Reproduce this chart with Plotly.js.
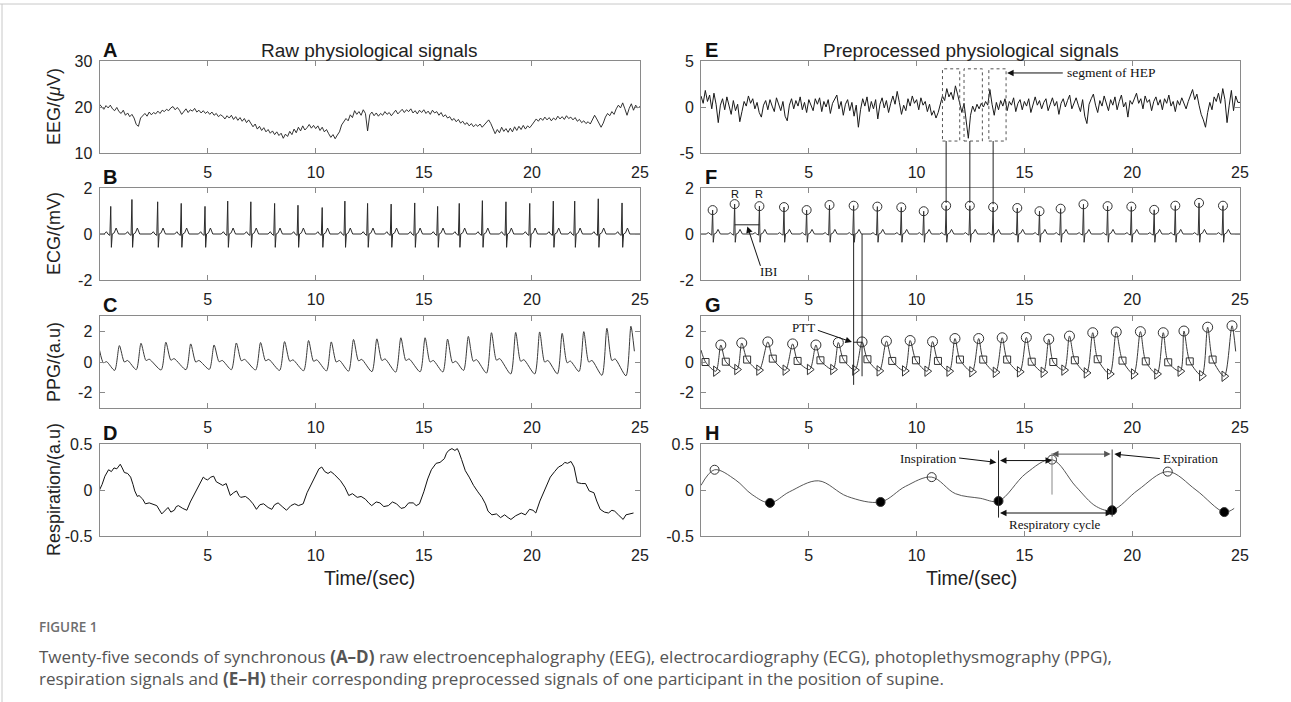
<!DOCTYPE html>
<html><head><meta charset="utf-8">
<script src="https://cdn.plot.ly/plotly-3.0.1.min.js"></script>
<style>html,body{margin:0;padding:0;background:#fff;}#chart{width:1291px;height:702px;}</style>
</head><body><div id="chart"></div>
<script>
// ---------------- DATA ----------------
const eegSampleInterval = 0.1; // s
// (A) raw EEG, µV, every 0.1 s from 0 to 25 s
const eegRaw = [
20.6,20.1,19.5,20.3,19.8,20.4,19.6,19.2,19.9,19.0,
18.6,19.3,18.2,18.7,17.9,18.4,17.6,16.2,15.8,17.6,
18.1,18.6,18.0,18.9,18.3,18.8,18.5,19.1,18.6,19.3,
19.0,19.5,19.2,19.8,20.1,19.4,19.9,19.3,18.4,19.0,
19.6,18.8,19.4,19.1,19.7,18.9,19.3,18.7,19.2,18.6,
19.0,18.4,18.9,18.2,18.6,17.9,18.3,18.0,17.4,18.1,
17.6,18.2,17.3,17.9,17.1,17.7,16.9,17.5,16.6,17.2,
16.4,15.7,16.3,15.2,15.8,14.9,15.5,14.6,15.1,14.3,
14.8,14.0,14.6,13.8,14.3,13.2,14.1,13.6,14.7,14.0,
15.2,14.4,15.6,14.8,15.9,15.0,15.5,16.2,15.4,16.0,
15.3,15.9,14.9,15.6,14.6,15.1,14.2,13.4,14.0,13.1,
13.9,14.6,16.1,16.8,17.5,17.0,18.3,17.7,19.2,18.4,
19.0,18.2,19.4,18.6,14.8,18.3,18.9,18.1,18.7,18.0,
18.6,18.2,19.0,18.4,18.8,18.1,18.7,19.3,18.5,19.1,
19.5,18.8,19.4,19.0,19.6,18.7,19.2,18.5,19.3,18.8,
19.4,18.6,19.1,18.4,19.3,18.7,19.0,18.2,18.8,17.9,
18.3,17.6,17.9,17.1,17.5,16.8,17.3,16.5,16.9,16.2,
16.6,15.9,16.4,15.7,16.2,15.8,16.3,15.6,16.1,16.6,
17.2,16.4,15.3,14.2,15.1,14.4,15.6,14.7,15.3,14.5,
15.4,14.6,15.7,14.9,15.8,15.1,16.0,15.2,15.9,15.5,
16.1,16.8,17.4,16.9,17.6,17.1,17.8,17.2,17.7,17.0,
17.6,17.2,18.0,17.4,17.9,17.3,18.1,17.5,17.8,17.2,
17.7,16.9,17.3,16.6,17.0,16.4,16.8,16.3,17.1,18.2,
17.4,16.3,15.6,16.5,17.8,18.6,18.1,19.0,18.4,19.6,
20.4,19.8,20.9,19.6,18.2,19.7,20.7,19.3,20.4,19.8,
20.1];
// (E) preprocessed EEG, every 0.1 s
const eegPre = [
1.2,0.4,1.8,0.6,1.3,-0.2,1.5,0.3,-1.7,0.2,
0.9,-0.3,1.1,0.2,-0.8,0.7,-0.4,0.3,-1.6,-0.5,
0.6,0.1,1.2,0.4,0.9,-0.2,0.5,-0.6,-1.1,0.2,
0.7,-0.3,0.8,0.1,-0.5,1.0,0.3,-0.4,0.6,-1.0,
-1.5,0.2,0.9,-0.2,0.7,0.1,1.1,-0.3,0.5,-0.6,
0.8,0.2,-0.4,0.9,0.3,1.0,-0.5,0.6,0.0,0.8,
-0.7,0.4,0.9,1.3,-0.2,0.6,-0.9,0.3,0.8,-0.4,
0.5,-1.0,0.2,-2.2,-0.3,0.9,0.1,1.1,-0.5,0.6,
-0.2,0.8,-1.3,0.3,1.0,-0.1,0.7,-0.6,0.4,1.2,
0.3,1.7,0.5,-0.8,0.2,-0.4,0.9,0.1,1.2,0.4,
0.8,-0.3,1.0,0.2,0.6,-0.5,0.3,-0.9,-0.4,-1.2,
-0.6,0.3,1.2,0.7,2.0,1.1,1.6,0.8,2.3,1.4,
0.2,-0.6,0.4,-1.3,-3.4,-0.9,0.1,-0.5,0.3,-0.2,
0.4,0.0,0.6,0.2,1.9,0.3,-0.9,0.5,-0.3,0.7,
0.1,0.9,-0.4,0.6,0.2,1.0,-0.5,0.4,0.8,-0.3,
0.6,0.1,0.9,-0.6,0.4,1.1,0.2,0.7,-0.2,0.5,
0.9,-0.4,0.3,1.0,0.1,0.6,-0.8,0.4,0.9,0.0,
0.7,1.3,-0.2,0.5,1.0,0.2,-0.5,0.8,-1.0,-1.8,
0.3,0.9,1.4,0.2,-0.6,0.7,0.1,1.2,0.4,-0.4,
0.8,0.2,1.1,-0.3,0.6,1.3,0.0,0.5,-1.1,0.7,
0.3,1.0,1.5,0.4,0.9,-0.2,1.2,0.5,0.8,-0.4,
0.6,1.1,0.2,0.8,-0.3,0.9,0.4,1.3,0.1,0.6,
-0.5,0.7,0.2,1.0,0.3,-0.2,0.6,1.2,1.9,0.8,
1.4,0.2,-0.8,-1.4,-2.2,-0.6,0.5,-0.3,1.1,0.6,
1.5,0.4,2.0,0.8,-1.7,0.2,1.8,-0.4,1.2,0.5,
0.5];

// (B) raw ECG: R-peak times (s) and amplitudes (mV)
const ecgRawRTimes = [0.52,1.5,2.69,3.78,4.88,5.93,7.0,8.1,9.18,10.3,11.35,12.4,13.49,14.58,15.64,16.64,17.71,18.8,19.9,20.99,21.98,23.07,24.17];
const ecgRawRAmps  = [1.2,1.5,1.4,1.33,1.2,1.43,1.4,1.33,1.25,1.15,1.43,1.33,1.3,1.35,1.2,1.33,1.45,1.4,1.33,1.43,1.43,1.53,1.35];
// (F) preprocessed ECG: detected R peaks
const ecgPreRTimes = [0.54,1.56,2.71,3.85,4.9,5.96,7.08,8.18,9.29,10.33,11.37,12.47,13.55,14.67,15.7,16.68,17.74,18.86,19.96,21.02,22.0,23.1,24.21];
const ecgPreRAmps  = [1.04,1.3,1.21,1.17,1.04,1.26,1.23,1.19,1.16,0.99,1.23,1.23,1.17,1.13,0.99,1.1,1.29,1.21,1.19,1.05,1.23,1.35,1.23];
// one heartbeat (offset from R in s, level in mV; 'R' = R amplitude)
const ecgBeatOffsets   = [-0.30,-0.20,-0.13,-0.04,0,0.03,0.07,0.16,0.25,0.36];
const ecgRawBeatLevels = [0,0.1,0,-0.06,'R',-0.58,0,0.05,0.26,0];
const ecgPreBeatLevels = [0,0.06,0,-0.05,'R',-0.36,0,0.04,0.2,0];

// (C) raw PPG landmarks
const ppgRawStart = [0,0.78], ppgRawEnd = [24.74,0.7];
const ppgRawNotchT = [0.18,1.15,2.15,3.3,4.45,5.53,6.56,7.68,8.8,9.9,10.95,11.98,13.06,14.17,15.29,16.33,17.29,18.36,19.48,20.59,21.63,22.63,23.7];
const ppgRawNotchV = [-0.05,0.0,0.1,0.12,0.0,0.02,0.08,0.08,0.05,0.05,0.0,0.08,0.1,0.1,0.0,-0.05,0.05,0.12,0.05,0.0,-0.05,0.0,0.1];
const ppgRawBumpT  = [0.33,1.3,2.3,3.45,4.6,5.68,6.71,7.83,8.95,10.05,11.1,12.13,13.21,14.32,15.44,16.48,17.44,18.51,19.63,20.74,21.78,22.78,23.85];
const ppgRawBumpV  = [0.02,0.1,0.18,0.22,0.1,0.1,0.17,0.17,0.14,0.14,0.1,0.17,0.2,0.2,0.1,0.05,0.15,0.22,0.15,0.1,0.06,0.1,0.2];
const ppgRawFootT  = [0.7,1.7,2.85,4.0,5.08,6.1,7.22,8.33,9.44,10.5,11.52,12.6,13.7,14.83,15.88,16.84,17.9,19.02,20.13,21.18,22.18,23.24,24.35];
const ppgRawFootV  = [-0.55,-0.5,-0.52,-0.5,-0.48,-0.5,-0.52,-0.55,-0.57,-0.58,-0.6,-0.63,-0.66,-0.64,-0.65,-0.55,-0.72,-0.78,-0.78,-0.77,-0.62,-0.87,-0.9];
const ppgRawPeakT  = [0.92,1.92,3.07,4.22,5.3,6.33,7.45,8.56,9.67,10.72,11.75,12.83,13.94,15.06,16.1,17.06,18.13,19.25,20.36,21.4,22.4,23.47,24.58];
const ppgRawPeakV  = [1.07,1.22,1.29,1.18,1.11,1.24,1.27,1.33,1.4,1.31,1.47,1.51,1.58,1.58,1.49,1.67,1.91,1.93,1.96,1.87,1.98,2.2,2.33];

// (G) preprocessed PPG landmarks (squares, triangles, circles)
const ppgPreStart = [0,0.78], ppgPreEnd = [24.8,0.69];
const ppgNotchT = [0.21,1.15,2.14,3.33,4.48,5.54,6.6,7.72,8.87,9.97,10.99,12.01,13.09,14.2,15.34,16.34,17.34,18.4,19.55,20.63,21.67,22.67,23.73];
const ppgNotchV = [0,0.02,0.16,0.22,0.07,0.11,0.18,0.18,0.07,0.11,0.07,0.16,0.16,0.16,0.02,0,0.11,0.18,0.09,0.04,-0.02,0.04,0.16];
const ppgFootT  = [0.69,1.67,2.69,3.91,5.04,6.12,7.14,8.27,9.45,10.49,11.51,12.57,13.66,14.78,15.88,16.84,17.88,18.96,20.07,21.15,22.23,23.23,24.27];
const ppgFootV  = [-0.6,-0.49,-0.53,-0.53,-0.49,-0.49,-0.53,-0.58,-0.58,-0.6,-0.6,-0.64,-0.67,-0.64,-0.67,-0.53,-0.71,-0.78,-0.78,-0.78,-0.6,-0.89,-0.93];
const ppgPeakT  = [0.92,1.89,3.1,4.25,5.33,6.37,7.47,8.6,9.7,10.74,11.78,12.88,13.97,15.09,16.13,17.09,18.17,19.26,20.38,21.44,22.4,23.5,24.63];
const ppgPeakV  = [1.11,1.24,1.31,1.18,1.11,1.27,1.31,1.36,1.4,1.33,1.53,1.53,1.58,1.6,1.49,1.69,1.91,1.96,1.98,1.91,2.02,2.27,2.36];

// (D) raw respiration
const respRawT = [0,0.12,0.25,0.42,0.55,0.67,0.8,0.96,1.05,1.15,1.3,1.44,1.55,1.63,1.75,1.83,2.0,2.12,2.3,2.5,2.65,2.88,3.0,3.17,3.3,3.46,3.55,3.65,3.85,4.04,4.2,4.42,4.6,4.8,4.9,5.0,5.15,5.28,5.4,5.57,5.7,5.86,5.95,6.05,6.2,6.34,6.45,6.53,6.75,6.92,7.1,7.26,7.42,7.59,7.8,7.97,8.1,8.26,8.45,8.65,8.85,9.03,9.2,9.42,9.6,9.8,10.0,10.15,10.28,10.42,10.57,10.7,10.86,11.0,11.15,11.35,11.53,11.7,11.92,12.1,12.3,12.45,12.59,12.8,12.97,13.15,13.36,13.55,13.74,13.95,14.12,14.3,14.51,14.65,14.8,15.0,15.18,15.35,15.57,15.75,15.95,16.05,16.15,16.3,16.44,16.55,16.63,16.75,16.92,17.1,17.3,17.5,17.69,17.85,17.97,18.15,18.36,18.55,18.74,18.9,19.03,19.25,19.51,19.7,19.89,20.05,20.18,20.37,20.6,20.85,21.05,21.23,21.4,21.52,21.65,21.81,21.95,22.1,22.3,22.48,22.65,22.87,23.0,23.16,23.35,23.54,23.7,23.83,24.0,24.22,24.35,24.5,24.7];
const respRawV = [0.0,0.06,0.15,0.22,0.2,0.24,0.23,0.28,0.24,0.19,0.18,0.14,0.06,-0.01,-0.07,-0.06,-0.1,-0.15,-0.14,-0.16,-0.17,-0.26,-0.23,-0.19,-0.24,-0.22,-0.18,-0.17,-0.2,-0.22,-0.13,-0.03,0.06,0.14,0.12,0.11,0.14,0.15,0.09,0.07,0.05,0.07,0.01,-0.06,-0.03,-0.01,-0.06,-0.08,-0.07,-0.1,-0.15,-0.21,-0.16,-0.15,-0.19,-0.21,-0.16,-0.14,-0.18,-0.22,-0.17,-0.15,-0.17,-0.15,-0.03,0.07,0.17,0.23,0.25,0.2,0.18,0.2,0.17,0.13,0.1,0.03,-0.06,-0.04,-0.08,-0.07,-0.1,-0.14,-0.17,-0.13,-0.14,-0.18,-0.17,-0.13,-0.15,-0.2,-0.19,-0.14,-0.14,-0.17,-0.15,-0.02,0.12,0.22,0.29,0.3,0.34,0.4,0.43,0.45,0.43,0.45,0.41,0.33,0.21,0.14,0.05,-0.02,-0.08,-0.15,-0.23,-0.27,-0.26,-0.3,-0.27,-0.3,-0.32,-0.28,-0.25,-0.27,-0.21,-0.22,-0.25,-0.12,0.0,0.14,0.2,0.25,0.27,0.3,0.29,0.31,0.25,0.08,0.07,0.07,-0.01,-0.03,-0.12,-0.21,-0.24,-0.25,-0.22,-0.23,-0.27,-0.32,-0.27,-0.26,-0.25];

// (H) preprocessed respiration
const respPreT = [0,0.63,1.6,2.37,3.2,4.1,5.45,6.79,8.33,9.49,10.7,11.8,12.95,13.8,15.07,16.28,17.38,18.34,19.07,20.27,21.65,22.96,24.27,24.73];
const respPreV = [0.05,0.22,0.11,-0.05,-0.14,-0.02,0.1,-0.07,-0.13,0.04,0.14,-0.04,-0.09,-0.12,0.18,0.33,0.04,-0.18,-0.22,0.0,0.2,0.0,-0.24,-0.2];
const respPeakT = [0.63,10.7,16.28,21.65];
const respPeakV = [0.22,0.14,0.33,0.2];
const respTroughT = [3.2,8.33,13.8,19.07,24.27];
const respTroughV = [-0.14,-0.13,-0.12,-0.22,-0.24];

// axes text
const xTickVals = [5,10,15,20,25];
const yRanges = [[10,30],[-2,2],[-3,3],[-0.5,0.5],[-5,5],[-2,2],[-3,3],[-0.5,0.5]];
const yTickVals = [[10,20,30],[-2,0,2],[-2,0,2],[-0.5,0,0.5],[-5,0,5],[-2,0,2],[-2,0,2],[-0.5,0,0.5]];
const yTickText = [['10','20','30'],['-2','0','2'],['-2','0','2'],['-0.5','0','0.5'],['-5','0','5'],['-2','0','2'],['-2','0','2'],['-0.5','0','0.5']];
const yTitles = ['EEG/(<i>\u03bc</i>V)','ECG/(mV)','PPG/(a.u)','Respiration/(a.u)'];
const panelLetters = ['A','B','C','D','E','F','G','H'];
const captionLines = [
  'Twenty-five seconds of synchronous <b>(A\u2013D)</b> raw electroencephalography (EEG), electrocardiography (ECG), photoplethysmography (PPG),',
  'respiration signals and <b>(E\u2013H)</b> their corresponding preprocessed signals of one participant in the position of supine.'
];

// ---------------- LAYOUT GEOMETRY ----------------
const W = 1291, H = 702;
const rowTops = [61,188,316,444], rowH = 92;
const colX = [[99.5,640],[701,1240]];
const SANS = 'Liberation Sans, Arial, Helvetica, sans-serif';
const SERIF = 'Liberation Serif, Times New Roman, serif';
const CAP = 'Open Sans, Noto Sans, sans-serif';
const INK = '#222';

function ydom(r){ return [1-(rowTops[r]+rowH)/H, 1-rowTops[r]/H]; }
function paperY(row, range, v){ const px = rowTops[row] + (range[1]-v)/(range[1]-range[0])*rowH; return 1-px/H; }
function ax(i, letter){ return letter + (i ? String(i+1) : ''); }

function buildEcg(rT, rA, levels){
  const t=[0], v=[0];
  rT.forEach((r,i)=>{ ecgBeatOffsets.forEach((o,j)=>{ t.push(r+o); v.push(levels[j]==='R'?rA[i]:levels[j]); }); });
  t.push(25); v.push(0);
  return {t,v};
}
function buildPpg(start, end, groups){
  const t=[start[0]], v=[start[1]];
  const n = groups[0][0].length;
  for(let k=0;k<n;k++){ groups.forEach(g=>{ t.push(g[0][k]); v.push(g[1][k]); }); }
  t.push(end[0]); v.push(end[1]);
  return {t,v};
}

const traces = [];
function line(i, x, y, extra){ traces.push(Object.assign({type:'scatter',mode:'lines',x,y,xaxis:ax(i,'x'),yaxis:ax(i,'y'),line:{color:'#2a2a2a',width:1},hoverinfo:'skip'},extra||{})); }
function markers(i, x, y, symbol, size, color){ traces.push({type:'scatter',mode:'markers',x,y,xaxis:ax(i,'x'),yaxis:ax(i,'y'),marker:{symbol,size,color:color||'#333',line:{color:'#333',width:1}},hoverinfo:'skip'}); }

const eegT = eegRaw.map((_,k)=>k*eegSampleInterval);
const eegPT = eegPre.map((_,k)=>k*eegSampleInterval);
line(0, eegT, eegRaw, {line:{color:'#1e1e1e',width:0.9}});
const ecgB = buildEcg(ecgRawRTimes, ecgRawRAmps, ecgRawBeatLevels);
line(1, ecgB.t, ecgB.v);
const ppgC = buildPpg(ppgRawStart, ppgRawEnd, [[ppgRawNotchT,ppgRawNotchV],[ppgRawBumpT,ppgRawBumpV],[ppgRawFootT,ppgRawFootV],[ppgRawPeakT,ppgRawPeakV]]);
line(2, ppgC.t, ppgC.v, {line:{color:'#3a3a3a',width:1,shape:'spline',smoothing:0.7}});
line(3, respRawT, respRawV, {line:{color:'#111',width:1}});
line(4, eegPT, eegPre, {line:{color:'#1a1a1a',width:1}});
const ecgF = buildEcg(ecgPreRTimes, ecgPreRAmps, ecgPreBeatLevels);
line(5, ecgF.t, ecgF.v, {line:{color:'#333',width:1}});
markers(5, ecgPreRTimes, ecgPreRAmps, 'circle-open', 9);
const ppgG = buildPpg(ppgPreStart, ppgPreEnd, [[ppgNotchT,ppgNotchV],[ppgFootT,ppgFootV],[ppgPeakT,ppgPeakV]]);
line(6, ppgG.t, ppgG.v, {line:{color:'#3a3a3a',width:1,shape:'spline',smoothing:0.8}});
markers(6, ppgNotchT, ppgNotchV, 'square-open', 7);
markers(6, ppgFootT, ppgFootV, 'triangle-right-open', 9);
markers(6, ppgPeakT, ppgPeakV, 'circle-open', 10);
line(7, respPreT, respPreV, {line:{color:'#444',width:0.9,shape:'spline',smoothing:1}});
markers(7, respPeakT, respPeakV, 'circle-open', 9);
markers(7, respTroughT, respTroughV, 'circle', 9, '#000');

const layout = {width:W,height:H,margin:{l:0,r:0,t:0,b:0},paper_bgcolor:'#fff',plot_bgcolor:'#fff',showlegend:false,
  font:{family:SANS,color:INK},annotations:[],shapes:[]};
const axisCommon = {ticks:'inside',ticklen:5,tickwidth:1,tickcolor:'#8a8a8a',showline:true,linecolor:'#8a8a8a',linewidth:1,
  mirror:'ticks',showgrid:false,zeroline:false,tickfont:{family:SANS,size:16,color:INK},fixedrange:true};
for(let i=0;i<8;i++){
  const col = i<4?0:1, row = i%4;
  layout[ax(i,'xaxis')] = Object.assign({},axisCommon,{domain:[colX[col][0]/W,colX[col][1]/W],anchor:ax(i,'y'),range:[0,25],
    tickvals:xTickVals,ticklabelstandoff:5});
  layout[ax(i,'yaxis')] = Object.assign({},axisCommon,{domain:ydom(row),anchor:ax(i,'x'),range:yRanges[i],
    tickvals:yTickVals[i],ticktext:yTickText[i],ticklabelstandoff:3});
  layout.annotations.push({xref:'paper',yref:'paper',x:(colX[col][0]+1.5)/W,y:1-(rowTops[row]-11)/H,xanchor:'left',yanchor:'middle',
    text:'<b>'+panelLetters[i]+'</b>',showarrow:false,font:{family:SANS,size:20,color:'#111'}});
}
const A = layout.annotations, S = layout.shapes;
function txt(xref,yref,x,y,text,font,xanchor,extra){ A.push(Object.assign({xref,yref,x,y,text,showarrow:false,font,xanchor:xanchor||'center',yanchor:'middle'},extra||{})); }
function arrow(xr,yr,x,y,tx,ty,opts){ A.push(Object.assign({xref:xr,yref:yr,axref:xr,ayref:yr,x,y,ax:tx,ay:ty,text:'',showarrow:true,
  arrowhead:2,arrowsize:1.3,arrowwidth:1,arrowcolor:'#111',standoff:0,startstandoff:0},opts||{})); }
const serifF = {family:SERIF,size:13,color:'#111'};

// titles
txt('paper','paper',369/W,1-50/H,'Raw physiological signals',{family:SANS,size:19,color:INK});
txt('paper','paper',971/W,1-50/H,'Preprocessed physiological signals',{family:SANS,size:19,color:INK});
txt('paper','paper',369/W,1-578/H,'Time/(sec)',{family:SANS,size:19.5,color:INK});
txt('paper','paper',971/W,1-578/H,'Time/(sec)',{family:SANS,size:19.5,color:INK});
yTitles.forEach((t,r)=>txt('paper','paper',54/W,1-(rowTops[r]+rowH/2)/H,t,{family:SANS,size:18,color:INK},'center',{textangle:-90}));

// E: HEP segments
const hepIdx = [10,11,12];
const hepBoxes = [[11.2,12.0],[12.2,13.05],[13.35,14.15]];
const hepBoxY = [-3.7,4.15];
hepBoxes.forEach(b=>S.push({type:'rect',xref:'x5',yref:'y5',x0:b[0],x1:b[1],y0:hepBoxY[0],y1:hepBoxY[1],line:{color:'#555',width:1,dash:'dot'}}));
arrow('x5','y5',14.2,3.7,16.85,3.7);
txt('x5','y5',16.9,3.7,'segment of HEP',{family:SERIF,size:13.5,color:'#111'},'left');
hepIdx.forEach(k=>S.push({type:'line',xref:'x6',yref:'paper',x0:ecgPreRTimes[k],x1:ecgPreRTimes[k],
  y0:paperY(0,yRanges[4],hepBoxY[0]),y1:paperY(1,yRanges[5],ecgPreRAmps[k]+0.12),line:{color:'#222',width:1}}));

// F: R labels and IBI
[1,2].forEach(k=>txt('x6','y6',ecgPreRTimes[k],1.75,'R',{family:SANS,size:11,color:'#111'}));
S.push({type:'line',xref:'x6',yref:'y6',x0:ecgPreRTimes[1],x1:ecgPreRTimes[2],y0:0.4,y1:0.4,line:{color:'#222',width:1}});
arrow('x6','y6',2.15,0.33,2.78,-1.45);
txt('x6','y6',3.15,-1.65,'IBI',serifF);

// F->G: PTT
const pttR = 6, pttP = 6;
S.push({type:'line',xref:'x6',yref:'paper',x0:ecgPreRTimes[pttR],x1:ecgPreRTimes[pttR],y0:paperY(1,yRanges[5],0),y1:paperY(2,yRanges[6],-1.49),line:{color:'#222',width:1}});
S.push({type:'line',xref:'x6',yref:'paper',x0:ppgPeakT[pttP],x1:ppgPeakT[pttP],y0:paperY(1,yRanges[5],0),y1:paperY(2,yRanges[6],-0.93),line:{color:'#222',width:1}});
S.push({type:'line',xref:'x7',yref:'y7',x0:ecgPreRTimes[pttR],x1:ppgPeakT[pttP],y0:1.29,y1:1.29,line:{color:'#222',width:1}});
arrow('x7','y7',7.0,1.3,5.35,2.1);
txt('x7','y7',4.75,2.27,'PTT',serifF);

// H: respiration annotations
const inspStart = respTroughT[2], inspEnd = respPeakT[2], expEnd = respTroughT[3];
S.push({type:'line',xref:'x8',yref:'y8',x0:inspStart,x1:inspStart,y0:-0.3,y1:0.43,line:{color:'#222',width:1}});
S.push({type:'line',xref:'x8',yref:'y8',x0:inspEnd,x1:inspEnd,y0:-0.05,y1:0.4,line:{color:'#888',width:1}});
S.push({type:'line',xref:'x8',yref:'y8',x0:expEnd,x1:expEnd,y0:-0.29,y1:0.44,line:{color:'#333',width:1}});
arrow('x8','y8',inspEnd,0.32,inspStart,0.32,{arrowside:'end+start',startarrowhead:2,startarrowsize:1.3});
arrow('x8','y8',inspEnd,0.39,expEnd,0.39,{arrowside:'end+start',startarrowhead:2,startarrowsize:1.3,arrowcolor:'#555'});
arrow('x8','y8',expEnd,-0.25,inspStart,-0.25,{arrowside:'end+start',startarrowhead:2,startarrowsize:1.3});
arrow('x8','y8',inspStart-0.1,0.3,11.9,0.35);
txt('x8','y8',10.55,0.34,'Inspiration',serifF);
arrow('x8','y8',expEnd+0.1,0.39,21.35,0.34);
txt('x8','y8',22.7,0.34,'Expiration',serifF);
txt('x8','y8',(inspStart+expEnd)/2,-0.38,'Respiratory cycle',serifF);

// frame and caption
S.push({type:'line',xref:'paper',yref:'paper',x0:0,x1:1,y0:1-4/H,y1:1-4/H,line:{color:'#c8c8c8',width:1}});
S.push({type:'line',xref:'paper',yref:'paper',x0:2/W,x1:2/W,y0:0,y1:1-4/H,line:{color:'#c8c8c8',width:1}});
txt('paper','paper',37/W,1-627/H,'FIGURE 1',{family:CAP,size:13.5,color:'#6e6e6e',weight:600},'left');
txt('paper','paper',37/W,1-667/H,captionLines.join('<br>'),{family:CAP,size:17,color:'#555'},'left',{align:'left'});

Plotly.newPlot('chart', traces, layout, {staticPlot:true,displayModeBar:false});
</script></body></html>
